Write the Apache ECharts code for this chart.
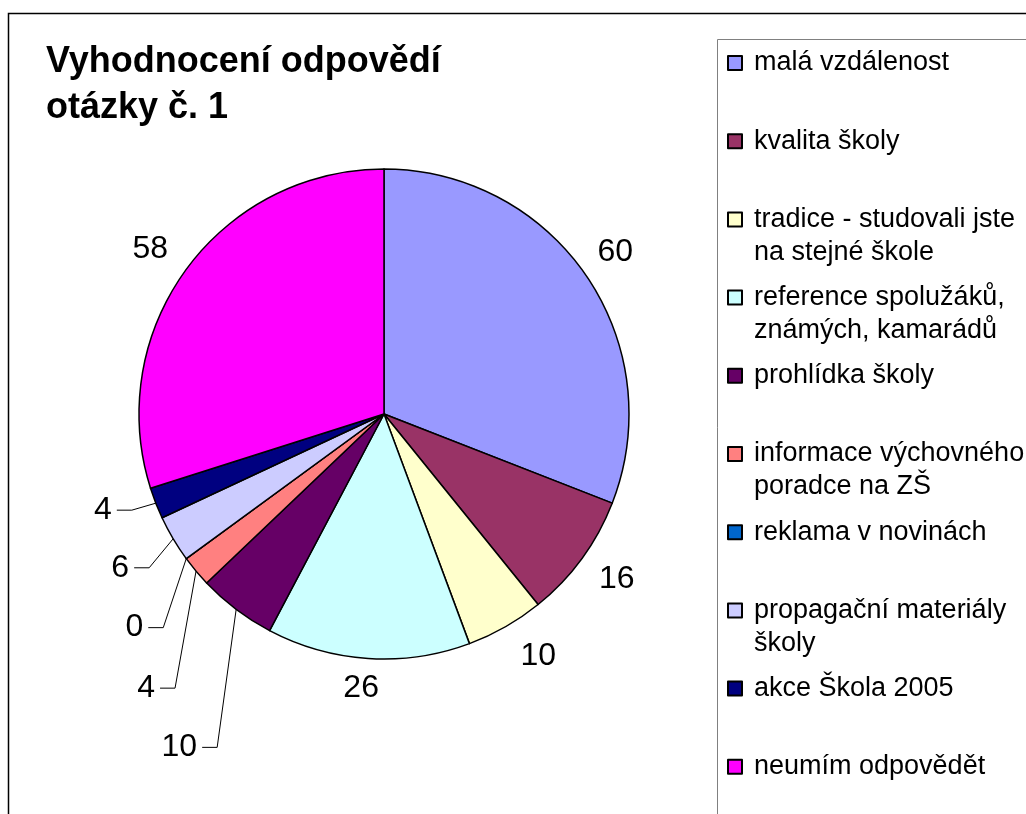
<!DOCTYPE html>
<html><head><meta charset="utf-8">
<script src="https://cdn.jsdelivr.net/npm/echarts@6/dist/echarts.min.js"></script>
<style>html,body{margin:0;padding:0;background:#fff}#c{width:1026px;height:814px}</style>
</head><body><div id="c"></div>
<script>
// ---- data ----
const categories = [
  'malá vzdálenost',
  'kvalita školy',
  'tradice - studovali jste\nna stejné škole',
  'reference spolužáků,\nznámých, kamarádů',
  'prohlídka školy',
  'informace výchovného\nporadce na ZŠ',
  'reklama v novinách',
  'propagační materiály\nškoly',
  'akce Škola 2005',
  'neumím odpovědět'
];
const values = [60, 16, 10, 26, 10, 4, 0, 6, 4, 58];
const titleLines = ['Vyhodnocení odpovědí', 'otázky č. 1'];

// ---- styles / layout ----
const colors = ['#9999FF','#993366','#FFFFCC','#CCFFFF','#660066','#FF8080','#0066CC','#CCCCFF','#000080','#FF00FF'];
const FONT = '"Liberation Sans", Arial, sans-serif';
// label centre offset from slice edge point (labels without leader line)
const LABEL_CENTER_OFFSET = {0:[29,-24], 1:[35,21], 2:[33,29], 3:[-7,30], 9:[-36,-20]};
// leader line bend offset from slice edge point (labels with leader line)
const LEADER_BEND = {4:[-19,138], 5:[-21,117], 6:[-23,69], 7:[-24,29], 8:[-24,7]};
const LEGEND_Y0 = 63, LEGEND_STEP = 78.2, LEGEND_LH = 33, LEGEND_FS = 27;

const chart = echarts.init(document.getElementById('c'), null, {renderer: 'canvas'});

const legends = categories.map(function (name, i) {
  const lines = name.split('\n').length;
  // multi-line entries: a leading empty line keeps the first text line level with the marker
  const shownLines = lines > 1 ? lines + 1 : 1;
  const boxH = shownLines * LEGEND_LH;
  return {
    data: [name],
    orient: 'vertical',
    left: 727,
    top: LEGEND_Y0 + i * LEGEND_STEP - boxH / 2,
    padding: 0,
    itemGap: 0,
    itemWidth: 14,
    itemHeight: 14,
    icon: 'rect',
    selectedMode: false,
    formatter: function (n) { return n.indexOf('\n') >= 0 ? '\n' + n : n; },
    textStyle: {
      fontFamily: FONT, fontSize: LEGEND_FS, lineHeight: LEGEND_LH, color: '#000',
      padding: [0, 0, 0, 7]
    }
  };
});

chart.setOption({
  animation: false,
  color: colors,
  title: {
    text: titleLines.join('\n'),
    left: 46, top: 39, padding: 0,
    textStyle: {fontFamily: FONT, fontSize: 36, fontWeight: 'bold', lineHeight: 46, color: '#000'}
  },
  graphic: [
    {type: 'rect', silent: true, z: 0, shape: {x: 8.5, y: 13.5, width: 1100, height: 900},
     style: {fill: 'none', stroke: '#000', lineWidth: 1.5}},
    {type: 'rect', silent: true, z: 0, shape: {x: 717.5, y: 39.5, width: 400, height: 900},
     style: {fill: 'none', stroke: '#808080', lineWidth: 1}}
  ],
  legend: legends,
  series: [{
    type: 'pie',
    center: [384, 414],
    radius: 245,
    startAngle: 90,
    clockwise: true,
    avoidLabelOverlap: false,
    emphasis: {disabled: true},
    itemStyle: {borderColor: '#000', borderWidth: 1.5},
    label: {
      show: true, position: 'outside', formatter: '{c}',
      fontFamily: FONT, fontSize: 32, color: '#000'
    },
    labelLine: {show: true, length: 10, length2: 10, lineStyle: {color: '#000', width: 1}},
    labelLayout: function (p) {
      const e = p.labelLinePoints && p.labelLinePoints[0];
      if (!e) return {};
      const i = p.dataIndex;
      if (LABEL_CENTER_OFFSET[i]) {
        const o = LABEL_CENTER_OFFSET[i];
        return {x: e[0] + o[0], y: e[1] + o[1], align: 'center', verticalAlign: 'middle',
                labelLinePoints: [e.slice(), e.slice(), e.slice()]};
      }
      const b = LEADER_BEND[i];
      const bx = e[0] + b[0], by = e[1] + b[1], ex = bx - 15;
      return {x: ex - 5, y: by, align: 'right', verticalAlign: 'middle',
              labelLinePoints: [e.slice(), [bx, by], [ex, by]]};
    },
    data: categories.map(function (n, i) { return {name: n, value: values[i]}; })
  }]
});
</script>
</body></html>
